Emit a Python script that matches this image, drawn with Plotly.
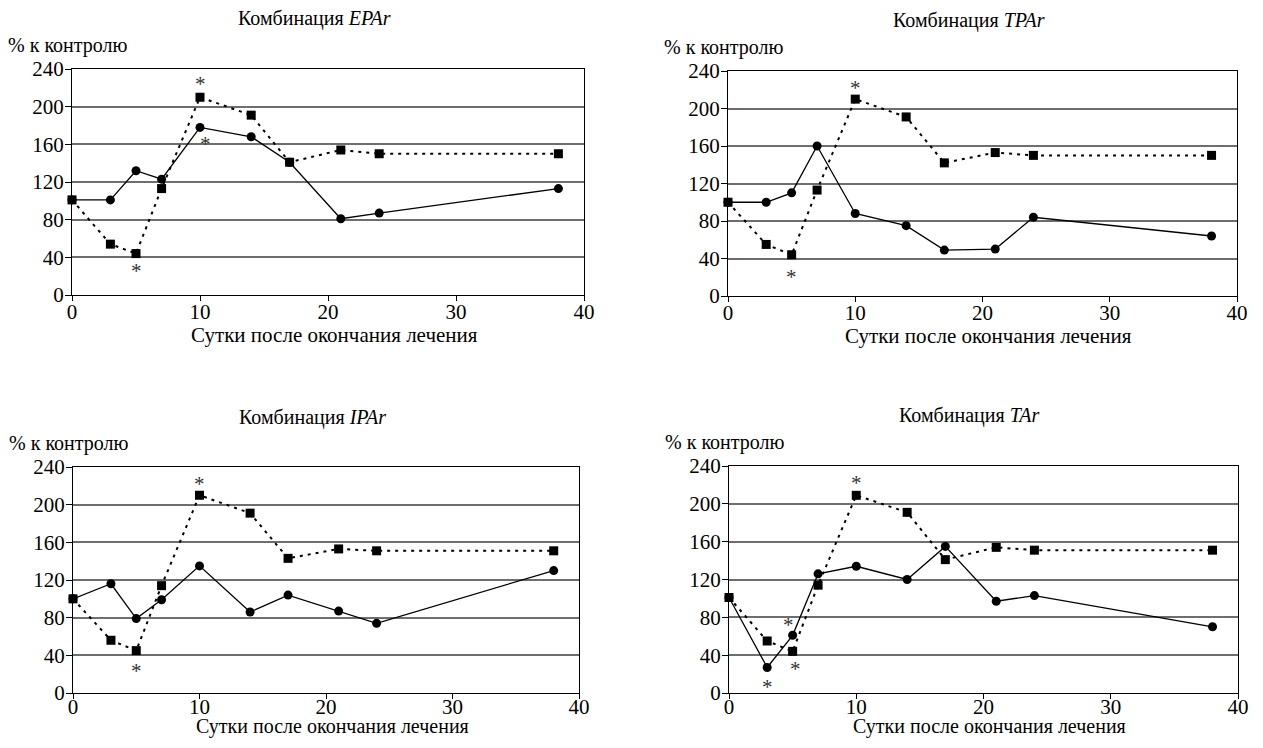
import plotly.graph_objects as go

days = [0, 3, 5, 7, 10, 14, 17, 21, 24, 38]

control_sq = {
    "EPAr": [101, 54, 44, 113, 210, 191, 141, 154, 150, 150],
    "TPAr": [100, 55, 44, 113, 210, 191, 142, 153, 150, 150],
    "IPAr": [100, 56, 45, 114, 210, 191, 143, 153, 151, 151],
    "TAr":  [101, 55, 44, 114, 209, 191, 141, 154, 151, 151],
}
combo_circ = {
    "EPAr": [101, 101, 132, 123, 178, 168, 141, 81, 87, 113],
    "TPAr": [100, 100, 110, 160, 88, 75, 49, 50, 84, 64],
    "IPAr": [100, 116, 79, 99, 135, 86, 104, 87, 74, 130],
    "TAr":  [101, 27, 61, 126, 134, 120, 155, 97, 103, 70],
}
# significance asterisks: (x, y) in data units
stars = {
    "EPAr": [(10, 228), (10.4, 165), (5, 30)],
    "TPAr": [(10, 226), (5, 25)],
    "IPAr": [(10, 226), (5, 28)],
    "TAr":  [(10, 226), (3, 11), (4.7, 76), (5.2, 30)],
}
panels = ["EPAr", "TPAr", "IPAr", "TAr"]
x_ticks = [0, 10, 20, 30, 40]
y_ticks = [0, 40, 80, 120, 160, 200, 240]

OFF = 8  # page body margin
W, H = 1263 - 2 * OFF, 748 - 2 * OFF
# pixel boxes of plot areas in the viewport: (left, right, top, bottom)
boxes = {
    "EPAr": (72, 584, 69, 295),
    "TPAr": (728, 1237, 71, 296),
    "IPAr": (73, 579, 467, 693),
    "TAr":  (729, 1238, 466, 693),
}
xtick_standoff = {"EPAr": -7, "TPAr": -7, "IPAr": -10, "TAr": -10}


def px(xv):
    return (xv - OFF) / W


def py(yv):
    return 1 - (yv - OFF) / H


FONT = "Liberation Serif"
fig = go.Figure()
layout = dict(
    width=W, height=H, margin=dict(l=0, r=0, t=0, b=0, autoexpand=False),
    paper_bgcolor="white", plot_bgcolor="white", showlegend=False,
    font=dict(family=FONT, size=20, color="black"),
)
annotations = []
for i, name in enumerate(panels):
    n = "" if i == 0 else str(i + 1)
    xa, ya = "x" + n, "y" + n
    l, r, t, b = boxes[name]
    layout["xaxis" + n] = dict(
        domain=[px(l), px(r)], range=[0, 40], tickvals=x_ticks,
        showgrid=False, zeroline=False, showline=True, linecolor="black",
        linewidth=1, mirror=True, ticks="outside", ticklen=5, tickcolor="black",
        tickfont=dict(family=FONT, size=21, color="black"), anchor=ya,
        fixedrange=True, automargin=False, ticklabelstandoff=xtick_standoff[name],
    )
    layout["yaxis" + n] = dict(
        domain=[py(b), py(t)], range=[0, 240], tickvals=y_ticks,
        showgrid=True, gridcolor="#6e6e6e", gridwidth=1.5, zeroline=False,
        showline=True, linecolor="black", linewidth=1, mirror=True,
        ticks="outside", ticklen=6, tickcolor="black",
        tickfont=dict(family=FONT, size=21, color="black"),
        anchor=xa, fixedrange=True, automargin=False, ticklabelstandoff=-3,
    )
    fig.add_trace(go.Scatter(
        x=days, y=control_sq[name], xaxis=xa, yaxis=ya, mode="lines+markers",
        line=dict(color="black", width=2, dash="3px,5px"),
        marker=dict(symbol="square", size=9, color="black"), cliponaxis=False,
    ))
    fig.add_trace(go.Scatter(
        x=days, y=combo_circ[name], xaxis=xa, yaxis=ya, mode="lines+markers",
        line=dict(color="black", width=1.3),
        marker=dict(symbol="circle", size=9, color="black"), cliponaxis=False,
    ))
    for sx, sy in stars[name]:
        annotations.append(dict(
            x=sx, y=sy, xref=xa, yref=ya, text="*", showarrow=False,
            font=dict(family=FONT, size=21, color="#333333"), yshift=-4,
        ))
    # titles
    annotations.append(dict(
        x=px((l + r) / 2 - 14), y=py(t - 50), xref="paper", yref="paper",
        text="Комбинация <i>" + name + "</i>", showarrow=False,
        xanchor="center", yanchor="middle", font=dict(family=FONT, size=20),
    ))
    annotations.append(dict(
        x=px(l - 66), y=py(t - 24), xref="paper", yref="paper",
        text="% к контролю", showarrow=False,
        xanchor="left", yanchor="middle", font=dict(family=FONT, size=20),
    ))
    if i < 2:
        xt = dict(y=py(b + 40), yanchor="middle", font=dict(family=FONT, size=21))
    else:
        xt = dict(y=0, yanchor="bottom", font=dict(family=FONT, size=20))
    annotations.append(dict(
        x=px((l + r) / 2 + 6), xref="paper", yref="paper",
        text="Сутки после окончания лечения", showarrow=False,
        xanchor="center", **xt,
    ))

layout["annotations"] = annotations
fig.update_layout(**layout)
fig.write_html("out.html")
